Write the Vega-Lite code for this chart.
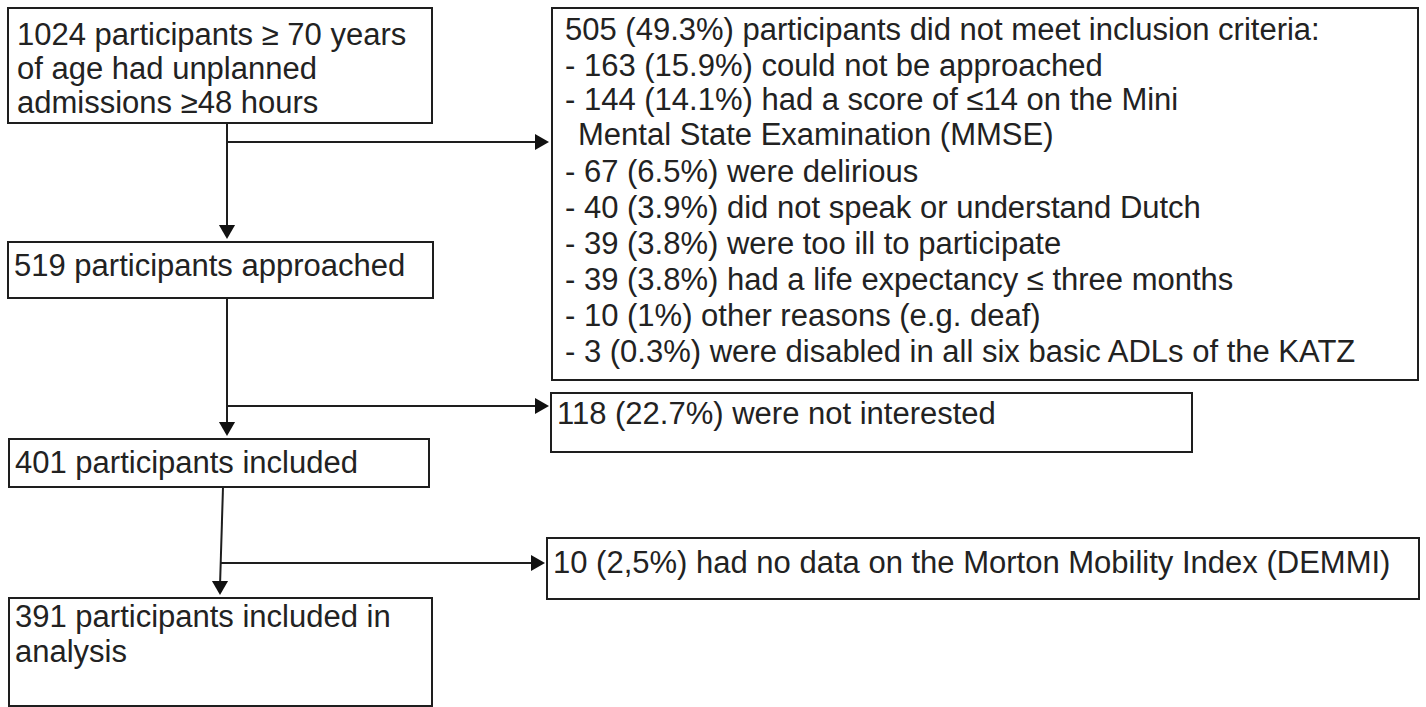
{
  "$schema": "https://vega.github.io/schema/vega-lite/v6.json",
  "width": 1426,
  "height": 707,
  "autosize": {"type": "fit", "contains": "padding"},
  "padding": 0,
  "background": "white",
  "config": {"view": {"stroke": null}},
  "datasets": {
    "boxes": [
      {"id": "A", "x": 8, "x2": 432, "y": 8, "y2": 123},
      {"id": "B", "x": 552, "x2": 1418, "y": 8, "y2": 380},
      {"id": "C", "x": 8, "x2": 433, "y": 242, "y2": 298},
      {"id": "D", "x": 551, "x2": 1192, "y": 393, "y2": 452},
      {"id": "E", "x": 9, "x2": 429, "y": 439, "y2": 487},
      {"id": "F", "x": 547, "x2": 1419, "y": 538, "y2": 599},
      {"id": "G", "x": 9, "x2": 432, "y": 598, "y2": 706}
    ],
    "lines": [
      {"x": 227, "x2": 227, "y": 123, "y2": 230},
      {"x": 227, "x2": 538, "y": 142, "y2": 142},
      {"x": 227, "x2": 227, "y": 298, "y2": 427},
      {"x": 227, "x2": 538, "y": 406, "y2": 406},
      {"x": 223, "x2": 220, "y": 487, "y2": 586},
      {"x": 221, "x2": 534, "y": 563, "y2": 563}
    ],
    "heads": [
      {"x": 227, "y": 232, "dir": "triangle-down"},
      {"x": 542, "y": 142, "dir": "triangle-right"},
      {"x": 227, "y": 429, "dir": "triangle-down"},
      {"x": 542, "y": 406, "dir": "triangle-right"},
      {"x": 220, "y": 588, "dir": "triangle-down"},
      {"x": 538, "y": 563, "dir": "triangle-right"}
    ],
    "texts": [
      {"x": 17, "y": 36, "label": "1024 participants ≥ 70 years"},
      {"x": 17, "y": 70, "label": "of age had unplanned"},
      {"x": 17, "y": 104, "label": "admissions ≥48 hours"},
      {"x": 14, "y": 267, "label": "519 participants approached"},
      {"x": 15, "y": 464, "label": "401 participants included"},
      {"x": 15, "y": 618, "label": "391 participants included in"},
      {"x": 15, "y": 653, "label": "analysis"},
      {"x": 565, "y": 31, "label": "505 (49.3%) participants did not meet inclusion criteria:"},
      {"x": 565, "y": 67, "label": "- 163 (15.9%) could not be approached"},
      {"x": 565, "y": 101, "label": "- 144 (14.1%) had a score of ≤14 on the Mini"},
      {"x": 578, "y": 136, "label": "Mental State Examination (MMSE)"},
      {"x": 565, "y": 173, "label": "- 67 (6.5%) were delirious"},
      {"x": 565, "y": 209, "label": "- 40 (3.9%) did not speak or understand Dutch"},
      {"x": 565, "y": 245, "label": "- 39 (3.8%) were too ill to participate"},
      {"x": 565, "y": 281, "label": "- 39 (3.8%) had a life expectancy ≤ three months"},
      {"x": 565, "y": 317, "label": "- 10 (1%) other reasons (e.g. deaf)"},
      {"x": 565, "y": 353, "label": "- 3 (0.3%) were disabled in all six basic ADLs of the KATZ"},
      {"x": 557, "y": 415, "label": "118 (22.7%) were not interested"},
      {"x": 553, "y": 564, "label": "10 (2,5%) had no data on the Morton Mobility Index (DEMMI)"}
    ]
  },
  "layer": [
    {
      "data": {"name": "boxes"},
      "mark": {"type": "rect", "fill": "white", "stroke": "#1e1e1e", "strokeWidth": 2},
      "encoding": {
        "x": {"field": "x", "type": "quantitative", "scale": {"domain": [0, 1426], "nice": false, "zero": false}, "axis": null},
        "x2": {"field": "x2"},
        "y": {"field": "y", "type": "quantitative", "scale": {"domain": [0, 707], "nice": false, "zero": false, "reverse": true}, "axis": null},
        "y2": {"field": "y2"}
      }
    },
    {
      "data": {"name": "lines"},
      "mark": {"type": "rule", "stroke": "#1e1e1e", "strokeWidth": 2},
      "encoding": {
        "x": {"field": "x", "type": "quantitative"},
        "x2": {"field": "x2"},
        "y": {"field": "y", "type": "quantitative"},
        "y2": {"field": "y2"}
      }
    },
    {
      "data": {"name": "heads"},
      "mark": {"type": "point", "filled": true, "color": "#111111", "size": 260, "opacity": 1},
      "encoding": {
        "x": {"field": "x", "type": "quantitative"},
        "y": {"field": "y", "type": "quantitative"},
        "shape": {"field": "dir", "type": "nominal", "scale": null}
      }
    },
    {
      "data": {"name": "texts"},
      "mark": {"type": "text", "align": "left", "baseline": "middle", "font": "Liberation Sans", "fontSize": 31, "color": "#222222"},
      "encoding": {
        "x": {"field": "x", "type": "quantitative"},
        "y": {"field": "y", "type": "quantitative"},
        "text": {"field": "label", "type": "nominal"}
      }
    }
  ]
}
